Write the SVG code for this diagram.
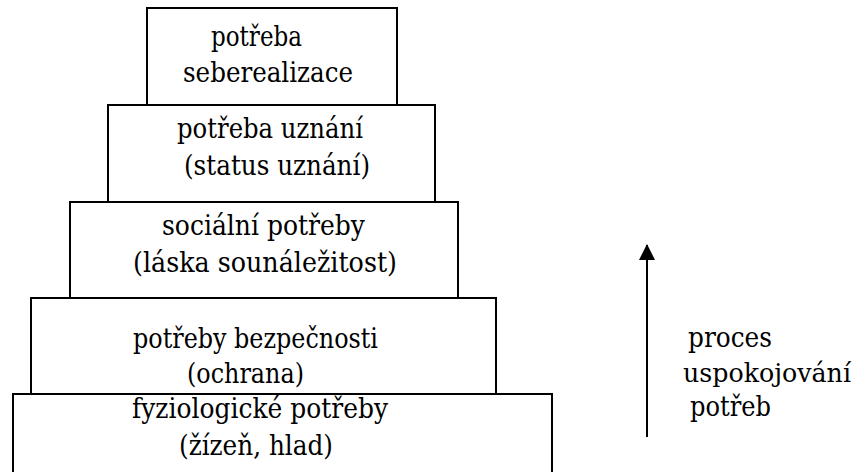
<svg xmlns="http://www.w3.org/2000/svg" width="866" height="472" viewBox="0 0 866 472">
<style>
.box{fill:#fff;stroke:#000;stroke-width:2}
.t text{font-family:'DejaVu Serif','Liberation Serif',serif;font-size:28px;fill:#000}
</style>
<defs>
<marker id="ah" markerWidth="16" markerHeight="16" refX="15" refY="8" orient="auto" markerUnits="userSpaceOnUse" viewBox="0 0 16 16">
<path d="M0,0 L16,8 L0,16 Z" fill="#000"/>
</marker>
</defs>
<rect width="866" height="472" fill="#fff"/>
<g id="node-fyziologicke" class="t">
<rect class="box" x="13" y="394" width="539" height="100"/>
<text x="132" y="418" textLength="256" lengthAdjust="spacingAndGlyphs">fyziologické potřeby</text>
<text x="179" y="455" textLength="154" lengthAdjust="spacingAndGlyphs">(žízeň, hlad)</text>
</g>
<g id="node-bezpecnost" class="t">
<rect class="box" x="31" y="298" width="465" height="96"/>
<text x="133" y="348" textLength="245" lengthAdjust="spacingAndGlyphs">potřeby bezpečnosti</text>
<text x="187" y="383" textLength="117" lengthAdjust="spacingAndGlyphs">(ochrana)</text>
</g>
<g id="node-socialni" class="t">
<rect class="box" x="70" y="202" width="388" height="96"/>
<text x="162" y="235" textLength="203" lengthAdjust="spacingAndGlyphs">sociální potřeby</text>
<text x="133" y="272" textLength="264" lengthAdjust="spacingAndGlyphs">(láska sounáležitost)</text>
</g>
<g id="node-uznani" class="t">
<rect class="box" x="108" y="105" width="327" height="97"/>
<text x="177" y="138" textLength="186" lengthAdjust="spacingAndGlyphs">potřeba uznání</text>
<text x="184" y="175" textLength="186" lengthAdjust="spacingAndGlyphs">(status uznání)</text>
</g>
<g id="node-seberealizace" class="t">
<rect class="box" x="147" y="8" width="250" height="97"/>
<text x="211" y="46" textLength="91" lengthAdjust="spacingAndGlyphs">potřeba</text>
<text x="183" y="82" textLength="170" lengthAdjust="spacingAndGlyphs">seberealizace</text>
</g>
<g id="connectors">
<line x1="647" y1="437" x2="647" y2="245" stroke="#000" stroke-width="2" marker-end="url(#ah)"/>
</g>
<g id="label-proces" class="t">
<text x="688" y="347" textLength="84" lengthAdjust="spacingAndGlyphs">proces</text>
<text x="683" y="382" textLength="168" lengthAdjust="spacingAndGlyphs" style="font-size:26px">uspokojování</text>
<text x="690" y="416" textLength="81" lengthAdjust="spacingAndGlyphs">potřeb</text>
</g>
</svg>
